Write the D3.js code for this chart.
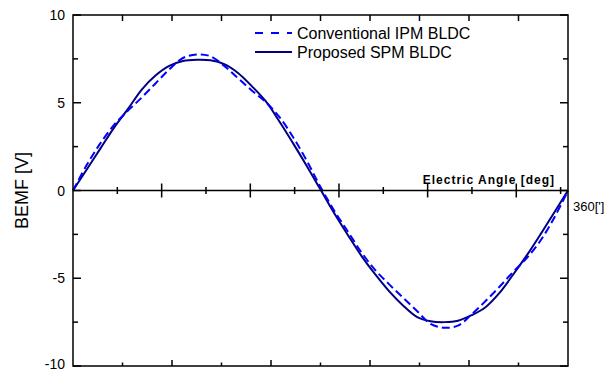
<!DOCTYPE html>
<html><head><meta charset="utf-8">
<script src="https://cdn.jsdelivr.net/npm/d3@7"></script>
<style>body{margin:0;background:#fff}svg{display:block}text{font-family:Arial,"Liberation Sans",sans-serif}</style>
</head><body><svg id="c" width="614" height="371"></svg>
<script>
const angles = [0,10,20,30,40,50,60,70,80,90,100,110,120,130,140,150,160,170,180,190,200,210,220,230,240,250,260,270,280,290,300,310,320,330,340,350,360];
const spmValues = [0,1.2,2.4,3.6,4.65,5.75,6.55,7.1,7.38,7.45,7.42,7.2,6.7,5.95,5.1,3.95,2.7,1.4,0.05,-1.3,-2.55,-3.75,-4.8,-5.75,-6.55,-7.2,-7.45,-7.5,-7.42,-7.1,-6.65,-5.85,-4.8,-3.7,-2.5,-1.25,0];
const ipmValues = [0,1.45,2.7,3.75,4.55,5.3,6.1,6.9,7.55,7.75,7.65,7.1,6.4,5.7,5.05,4.2,3.05,1.7,0.2,-1.15,-2.35,-3.55,-4.55,-5.35,-6.1,-6.85,-7.6,-7.82,-7.7,-7.05,-6.3,-5.5,-4.65,-3.85,-2.85,-1.55,0];
const seriesNames = ["Conventional IPM BLDC","Proposed SPM BLDC"];
const yTickLabels = [10,5,0,-5,-10];
const yMinorTicks = [7.5,2.5,-2.5,-7.5];
const xFrameTicks = [36,72,108,144,180,216,252,288,324];
const xFrameMajor = [72,144,216,288];
const midTicks = [30,60,90,120,150,180,210,240,270,300,330];
const midDomainMax = 335;
const xTitle = "Electric Angle [deg]";
const yTitle = "BEMF [V]";
const endLabel = "360[']";

const svg = d3.select("#c");
const L=73,R=568,T=15,B=366;
const x = d3.scaleLinear().domain([0,360]).range([L,R]);
const xm = d3.scaleLinear().domain([0,midDomainMax]).range([L,R]);
const y = d3.scaleLinear().domain([-10,10]).range([B,T]);

// curves
const line = d3.line().x(d=>x(d[0])).y(d=>y(d[1])).curve(d3.curveCatmullRom.alpha(0.5));
svg.append("path").datum(angles.map((a,i)=>[a,spmValues[i]]))
  .attr("d",line).attr("fill","none").attr("stroke","#000080").attr("stroke-width",2);
svg.append("path").datum(angles.map((a,i)=>[a,ipmValues[i]]))
  .attr("d",line).attr("fill","none").attr("stroke","#0000ff").attr("stroke-width",2).attr("stroke-dasharray","8,4");

const g = svg.append("g").attr("stroke","#000").attr("stroke-width",1.5);
// frame
g.append("rect").attr("x",L).attr("y",T).attr("width",R-L).attr("height",B-T).attr("fill","none");
// left & right ticks
yTickLabels.forEach(v=>{
  g.append("line").attr("x1",L).attr("x2",L+8).attr("y1",y(v)).attr("y2",y(v));
  g.append("line").attr("x1",R).attr("x2",R-8).attr("y1",y(v)).attr("y2",y(v));
});
yMinorTicks.forEach(v=>{
  g.append("line").attr("x1",L).attr("x2",L+5).attr("y1",y(v)).attr("y2",y(v));
  g.append("line").attr("x1",R).attr("x2",R-5).attr("y1",y(v)).attr("y2",y(v));
});
// top & bottom ticks
xFrameTicks.forEach(a=>{
  const maj = xFrameMajor.includes(a);
  g.append("line").attr("x1",x(a)).attr("x2",x(a)).attr("y1",T).attr("y2",T+6);
  g.append("line").attr("x1",x(a)).attr("x2",x(a)).attr("y1",B).attr("y2",B-(maj?6:3.5));
});
// middle axis
g.append("line").attr("x1",L).attr("x2",R).attr("y1",y(0)).attr("y2",y(0));
midTicks.forEach(a=>{
  const h = (a%60===0)?7:3.5;
  g.append("line").attr("x1",xm(a)).attr("x2",xm(a)).attr("y1",y(0)-h).attr("y2",y(0)+h);
});

// y tick labels
svg.selectAll(".yl").data(yTickLabels).enter().append("text")
  .attr("x",65).attr("y",d=>Math.min(y(d)+5,369)).attr("text-anchor","end")
  .attr("font-size",14).text(d=>d);
// y title
svg.append("text").attr("transform",`translate(28,${y(0)}) rotate(-90)`).attr("text-anchor","middle")
  .attr("font-size",18).text(yTitle);
// x title
svg.append("text").attr("x",555).attr("y",184).attr("text-anchor","end").attr("font-size",12)
  .attr("font-weight","bold").attr("letter-spacing","1px").text(xTitle);
svg.append("text").attr("x",573).attr("y",211).attr("font-size",13).text(endLabel);

// legend
const leg = [{name:seriesNames[0],color:"#0000ff",dash:"8,8",y:33},{name:seriesNames[1],color:"#000080",dash:null,y:52}];
leg.forEach(d=>{
  const l = svg.append("line").attr("x1",255).attr("x2",292).attr("y1",d.y).attr("y2",d.y)
    .attr("stroke",d.color).attr("stroke-width",2);
  if(d.dash) l.attr("stroke-dasharray",d.dash);
  svg.append("text").attr("x",297).attr("y",d.y).attr("dy","0.35em").attr("font-size",16).text(d.name);
});
</script></body></html>
